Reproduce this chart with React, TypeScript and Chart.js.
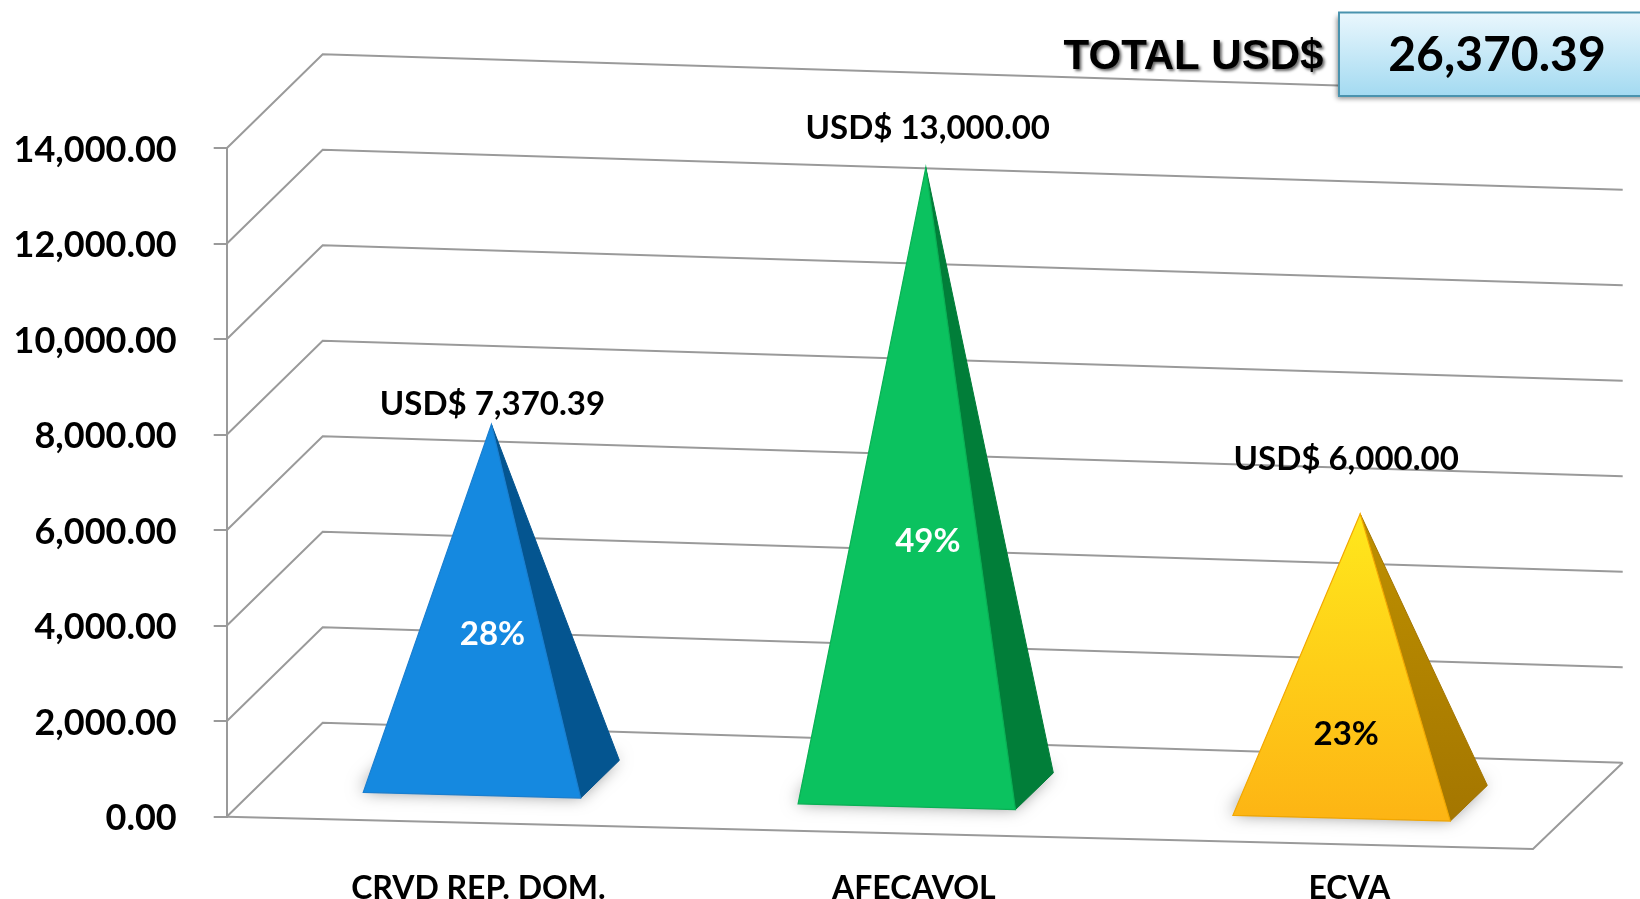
import React, { useEffect, useRef } from "react";
import { Chart, registerables } from "chart.js";

Chart.register(...registerables);

// ---------------- data ----------------
const categories = ["CRVD REP. DOM.", "AFECAVOL", "ECVA"];
const amounts = [7370.39, 13000.0, 6000.0];
const yTickValues = [0, 2000, 4000, 6000, 8000, 10000, 12000, 14000];
const totalLabel = "TOTAL USD$";
const valuePrefix = "USD$ ";

// ---------------- styles / layout ----------------
const FRONT_COLORS = [
  ["#1589E0", "#1589E0"],
  ["#0BC25F", "#0BC25F"],
  ["#FFE81C", "#FDB414"],
];
const SIDE_COLORS = [
  ["#045590", "#045590"],
  ["#017E39", "#017E39"],
  ["#BE9000", "#A47600"],
];
const EDGE_COLORS = ["#1A7FD0", "#0AB055", "#F2A700"];
const PCT_COLORS = ["#FFFFFF", "#FFFFFF", "#000000"];
const PCT_LABEL_FRAC = [0.402, 0.398, 0.23];
const VALUE_LABEL_LIFT = [20, 39, 54];
const LABEL_DX = [1, 2, -14];

const FONT = "Lato, 'Open Sans', sans-serif";
const FRONT_DROP = 32.3;
const DEPTH_L = [96, -94];
const DEPTH_R = [89.7, -86.3];
const BASE_D0 = 0.29;
const BASE_D1 = 0.7;
const GRID_COLOR = "#9a9a9a";

const fmt2 = (v: number) =>
  v.toLocaleString("en-US", { minimumFractionDigits: 2, maximumFractionDigits: 2 });

function makeProj(chart: any) {
  const a = chart.chartArea;
  const ys = chart.scales.y;
  const y0 = ys.getPixelForValue(0);
  return (u: number, d: number, v: number) => {
    const lx = a.left + DEPTH_L[0] * d;
    const ly = a.bottom + DEPTH_L[1] * d;
    const rx = a.right + DEPTH_R[0] * d;
    const ry = a.bottom + FRONT_DROP + DEPTH_R[1] * d;
    const lift = y0 - ys.getPixelForValue(v);
    return { x: lx + (rx - lx) * u, y: ly + (ry - ly) * u - lift };
  };
}

function geometry(chart: any) {
  const a = chart.chartArea;
  const W = a.right - a.left;
  const P = makeProj(chart);
  const meta = chart.getDatasetMeta(0);
  return meta.data.map((bar: any, i: number) => {
    const { x, width } = bar.getProps(["x", "width"], true);
    const u0 = (x - width / 2 - a.left) / W;
    const u1 = (x + width / 2 - a.left) / W;
    const uc = (x - a.left) / W;
    const dc = (BASE_D0 + BASE_D1) / 2;
    const v = amounts[i];
    return {
      A: P(u0, BASE_D0, 0),
      B: P(u1, BASE_D0, 0),
      C: P(u1, BASE_D1, 0),
      D: P(u0, BASE_D1, 0),
      T: P(uc, dc, v),
      F: P(uc, dc, 0),
      v,
    };
  });
}

function poly(ctx: CanvasRenderingContext2D, pts: { x: number; y: number }[]) {
  ctx.beginPath();
  pts.forEach((p, i) => (i ? ctx.lineTo(p.x, p.y) : ctx.moveTo(p.x, p.y)));
  ctx.closePath();
}

const pyramid3D = {
  id: "pyramid3D",
  beforeDatasetsDraw(chart: any) {
    const ctx: CanvasRenderingContext2D = chart.ctx;
    const P = makeProj(chart);
    ctx.save();
    ctx.strokeStyle = GRID_COLOR;
    ctx.lineWidth = 2;
    ctx.lineJoin = "miter";
    chart.scales.y.ticks.forEach((t: any) => {
      const v = t.value;
      const p1 = P(0, 0, v), p2 = P(0, 1, v), p3 = P(1, 1, v);
      ctx.beginPath();
      ctx.moveTo(p1.x, p1.y);
      ctx.lineTo(p2.x, p2.y);
      ctx.lineTo(p3.x, p3.y);
      ctx.stroke();
    });
    const f1 = P(0, 0, 0), f2 = P(1, 0, 0), f3 = P(1, 1, 0);
    ctx.beginPath();
    ctx.moveTo(f1.x, f1.y);
    ctx.lineTo(f2.x, f2.y);
    ctx.lineTo(f3.x, f3.y);
    ctx.stroke();
    ctx.restore();
  },
  afterDatasetsDraw(chart: any) {
    const ctx: CanvasRenderingContext2D = chart.ctx;
    geometry(chart).forEach((g: any, i: number) => {
      const { A, B, C, D, T } = g;
      // soft floor shadow
      ctx.save();
      ctx.shadowColor = "rgba(0,0,0,0.55)";
      ctx.shadowBlur = 18;
      ctx.shadowOffsetX = -2;
      ctx.shadowOffsetY = -3;
      ctx.fillStyle = "#777";
      poly(ctx, [A, B, C, D]);
      ctx.fill();
      ctx.restore();

      // right face
      ctx.save();
      const gs = ctx.createLinearGradient(0, T.y, 0, B.y);
      gs.addColorStop(0, SIDE_COLORS[i][0]);
      gs.addColorStop(1, SIDE_COLORS[i][1]);
      ctx.fillStyle = gs;
      poly(ctx, [B, C, T]);
      ctx.fill();
      ctx.strokeStyle = SIDE_COLORS[i][1];
      ctx.lineWidth = 1;
      ctx.stroke();
      // front face
      const gf = ctx.createLinearGradient(0, T.y, 0, B.y);
      gf.addColorStop(0, FRONT_COLORS[i][0]);
      gf.addColorStop(1, FRONT_COLORS[i][1]);
      ctx.fillStyle = gf;
      poly(ctx, [A, B, T]);
      ctx.fill();
      ctx.strokeStyle = EDGE_COLORS[i];
      ctx.lineWidth = 1.2;
      ctx.stroke();
      ctx.restore();
    });
  },
  afterDraw(chart: any) {
    const ctx: CanvasRenderingContext2D = chart.ctx;
    const total = amounts.reduce((s, v) => s + v, 0);
    const geo = geometry(chart);
    ctx.save();
    ctx.textAlign = "center";
    ctx.textBaseline = "middle";
    geo.forEach((g: any, i: number) => {
      const { T, F, v } = g;
      ctx.fillStyle = "#000";
      ctx.font = `bold 33px ${FONT}`;
      ctx.fillText(valuePrefix + fmt2(v), T.x + LABEL_DX[i], T.y - VALUE_LABEL_LIFT[i]);
      const pct = Math.round((v / total) * 100) + "%";
      ctx.fillStyle = PCT_COLORS[i];
      ctx.fillText(pct, T.x + LABEL_DX[i], F.y - (F.y - T.y) * PCT_LABEL_FRAC[i]);
    });
    ctx.restore();

    // total box
    const bx = 1339, by = 12.5, bw = 320, bh = 83.5;
    ctx.save();
    ctx.shadowColor = "rgba(0,0,0,0.45)";
    ctx.shadowBlur = 5;
    ctx.shadowOffsetX = -2;
    ctx.shadowOffsetY = 3;
    const gb = ctx.createLinearGradient(0, by, 0, by + bh);
    gb.addColorStop(0, "#EAF7FD");
    gb.addColorStop(1, "#A3DAF1");
    ctx.fillStyle = gb;
    ctx.fillRect(bx, by, bw, bh);
    ctx.restore();
    ctx.save();
    ctx.strokeStyle = "#4A93AE";
    ctx.lineWidth = 2;
    ctx.strokeRect(bx, by, bw, bh);
    ctx.fillStyle = "#000";
    ctx.textAlign = "center";
    ctx.textBaseline = "middle";
    ctx.font = `bold 48px ${FONT}`;
    ctx.fillText(fmt2(total), 1497, 56);
    ctx.restore();

    ctx.save();
    ctx.shadowColor = "rgba(0,0,0,0.6)";
    ctx.shadowBlur = 3;
    ctx.shadowOffsetX = 2;
    ctx.shadowOffsetY = 2;
    ctx.fillStyle = "#000";
    ctx.textAlign = "center";
    ctx.textBaseline = "middle";
    ctx.font = `bold 42px 'Liberation Sans', Arial, sans-serif`;
    ctx.fillText(totalLabel, 1193.5, 57);
    ctx.restore();
  },
};

export default function App() {
  const ref = useRef<HTMLCanvasElement>(null);
  useEffect(() => {
    const canvas = ref.current!;
    const chart = new Chart(canvas, {
      type: "bar",
      data: {
        labels: categories,
        datasets: [
          {
            data: amounts,
            backgroundColor: "rgba(0,0,0,0)",
            borderWidth: 0,
            barPercentage: 0.5,
            categoryPercentage: 1.0,
          },
        ],
      },
      options: {
        responsive: false,
        animation: false,
        devicePixelRatio: 1,
        layout: { padding: { left: 0, top: 148.3, right: 107, bottom: 0 } },
        plugins: { legend: { display: false }, tooltip: { enabled: false } },
        scales: {
          x: {
            grid: { display: false },
            border: { display: false },
            ticks: {
              color: "#000",
              font: { family: FONT, weight: "bold", size: 32 },
              padding: 45,
              labelOffset: 34,
              maxRotation: 0,
              autoSkip: false,
            },
            afterFit: (s: any) => {
              s.height = 82.3;
            },
          },
          y: {
            min: 0,
            max: 14000,
            afterBuildTicks: (s: any) => {
              s.ticks = yTickValues.map((v) => ({ value: v }));
            },
            ticks: {
              color: "#000",
              font: { family: FONT, weight: "bold", size: 36 },
              padding: 37,
              labelOffset: 2,
              callback: (v: any) => fmt2(Number(v)),
            },
            grid: {
              drawOnChartArea: false,
              drawTicks: true,
              tickLength: 13,
              color: GRID_COLOR,
              lineWidth: 2,
            },
            border: { display: true, color: GRID_COLOR, width: 2 },
            afterFit: (s: any) => {
              s.width = 226.7;
            },
          },
        },
      },
      plugins: [pyramid3D],
    } as any);
    return () => chart.destroy();
  }, []);
  return (
    <div style={{ position: "absolute", left: 0, top: 0, width: 1640, height: 899, background: "#fff" }}>
      <canvas ref={ref} width={1640} height={899} style={{ display: "block", width: 1640, height: 899 }} />
    </div>
  );
}
